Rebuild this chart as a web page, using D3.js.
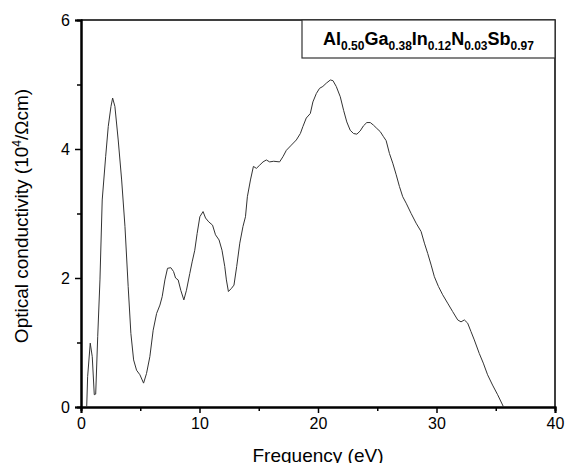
<!DOCTYPE html>
<html>
<head>
<meta charset="utf-8">
<script src="https://cdn.jsdelivr.net/npm/d3@7"></script>
<style>
  body { margin: 0; background: #fff; }
  text { font-family: "Liberation Sans", Arial, sans-serif; }
</style>
</head>
<body>
<div id="canvas"></div>
<script>
"use strict"

/* Data */
let freq = [0.48, 0.56, 0.78, 0.95, 1.12, 1.24, 1.41, 1.60, 1.79, 2.08, 2.30, 2.53, 2.67, 2.86, 3.14, 3.43,
    3.71, 3.98, 4.21, 4.44, 4.69, 4.97, 5.28, 5.53, 5.81, 6.09, 6.38, 6.66, 6.85, 7.08, 7.30, 7.58,
    7.81, 7.98, 8.20, 8.42, 8.68, 8.90, 9.18, 9.38, 9.60, 9.80, 10.03, 10.30, 10.51, 10.78, 11.10, 11.35,
    11.65, 11.90, 12.13, 12.27, 12.44, 12.70, 12.91, 13.14, 13.40, 13.67, 13.88, 14.04, 14.30, 14.55,
    14.80, 15.08, 15.36, 15.64, 15.92, 16.26, 16.76, 17.04, 17.33, 17.75, 18.17, 18.51, 18.73, 19.01,
    19.35, 19.57, 19.86, 20.13, 20.41, 20.70, 21.04, 21.26, 21.54, 21.88, 22.16, 22.43, 22.72, 23.00,
    23.28, 23.56, 23.84, 24.12, 24.41, 24.68, 24.96, 25.25, 25.53, 25.75, 26.03, 26.31, 26.60, 26.87,
    27.15, 27.44, 27.86, 28.28, 28.70, 28.98, 29.26, 29.55, 29.82, 30.16, 30.52, 30.94, 31.36, 31.79,
    32.07, 32.35, 32.63, 32.91, 33.19, 33.61, 33.95, 34.31, 34.73, 35.16, 35.66];
let sigma = [0.00, 0.47, 0.99, 0.78, 0.19, 0.20, 1.09, 1.97, 3.21, 3.88, 4.35, 4.66, 4.79, 4.66, 4.14, 3.52,
    2.80, 1.87, 1.14, 0.73, 0.57, 0.50, 0.37, 0.52, 0.78, 1.19, 1.45, 1.58, 1.71, 1.97, 2.15, 2.16,
    2.10, 2.00, 1.97, 1.81, 1.66, 1.81, 2.07, 2.25, 2.43, 2.69, 2.95, 3.03, 2.93, 2.87, 2.82, 2.67,
    2.59, 2.43, 2.18, 1.97, 1.79, 1.84, 1.89, 2.18, 2.54, 2.80, 2.95, 3.26, 3.52, 3.73,
    3.70, 3.75, 3.80, 3.83, 3.80, 3.81, 3.80, 3.88, 3.98, 4.06, 4.14, 4.24, 4.35, 4.48,
    4.55, 4.73, 4.86, 4.94, 4.97, 5.02, 5.07, 5.06, 4.97, 4.81, 4.60, 4.42, 4.29, 4.24,
    4.23, 4.28, 4.36, 4.41, 4.41, 4.37, 4.32, 4.27, 4.19, 4.13, 3.93, 3.78, 3.60, 3.42,
    3.26, 3.16, 3.00, 2.85, 2.72, 2.54, 2.38, 2.20, 2.02, 1.87, 1.74, 1.61, 1.48, 1.35,
    1.32, 1.35, 1.30, 1.17, 1.04, 0.83, 0.68, 0.50, 0.34, 0.19, 0.00];

let xTicks = [0, 10, 20, 30, 40];
let xMinor = [5, 15, 25, 35];
let yTicks = [0, 2, 4, 6];
let yMinor = [1, 3, 5];

let compound = [["Al", "0.50"], ["Ga", "0.38"], ["In", "0.12"], ["N", "0.03"], ["Sb", "0.97"]];

/* drawing setup */
let svgWidth = 565;
let svgHeight = 463;
let plotLeft = 81, plotRight = 555, plotTop = 20, plotBottom = 407;

let svg = d3.select("#canvas")
    .append("svg")
    .attr("width", svgWidth)
    .attr("height", svgHeight);

let xScale = d3.scaleLinear()
    .domain([0, 40])
    .range([plotLeft, plotRight]);

let yScale = d3.scaleLinear()
    .domain([0, 6])
    .range([plotBottom, plotTop]);

/* frame: top and right */
svg.append("path")
    .attr("d", `M${plotLeft},${plotTop}H${plotRight}V${plotBottom}`)
    .attr("fill", "none")
    .attr("stroke", "black")
    .attr("stroke-width", 1.5);

/* x axis */
svg.append("g")
    .attr("transform", `translate(0,${plotBottom})`)
    .call(d3.axisBottom(xScale).tickValues(xTicks).tickSize(6).tickPadding(5).tickFormat(d3.format("d")));
svg.append("g")
    .attr("transform", `translate(0,${plotBottom})`)
    .call(d3.axisBottom(xScale).tickValues(xMinor).tickSize(4).tickFormat(""));

/* y axis */
svg.append("g")
    .attr("transform", `translate(${plotLeft},0)`)
    .call(d3.axisLeft(yScale).tickValues(yTicks).tickSize(6).tickPadding(5).tickFormat(d3.format("d")));
svg.append("g")
    .attr("transform", `translate(${plotLeft},0)`)
    .call(d3.axisLeft(yScale).tickValues(yMinor).tickSize(4).tickFormat(""));

svg.selectAll(".domain").attr("stroke-width", 2).attr("stroke", "black");
svg.selectAll(".tick line").attr("stroke-width", 1.5).attr("stroke", "black");
svg.selectAll(".tick text")
    .attr("font-family", "Liberation Sans, Arial, sans-serif")
    .attr("font-size", 16)
    .attr("fill", "black");

/* the curve */
let line = d3.line()
    .x(function (d, i) { return xScale(freq[i]); })
    .y(function (d) { return yScale(d); });

svg.append("path")
    .datum(sigma)
    .attr("d", line)
    .attr("fill", "none")
    .attr("stroke", "#333")
    .attr("stroke-width", 1);

/* legend box */
svg.append("rect")
    .attr("x", 302)
    .attr("y", plotTop)
    .attr("width", plotRight - 302)
    .attr("height", 38)
    .attr("fill", "white")
    .attr("stroke", "#333")
    .attr("stroke-width", 1.2);

let legendText = svg.append("text")
    .attr("x", (302 + plotRight) / 2)
    .attr("y", 45)
    .attr("text-anchor", "middle")
    .attr("font-weight", "bold")
    .attr("font-size", 18);

compound.forEach(function (c, i) {
    legendText.append("tspan")
        .attr("dy", i == 0 ? 0 : -5)
        .text(c[0]);
    legendText.append("tspan")
        .attr("font-size", 12)
        .attr("dy", 5)
        .text(c[1]);
});

/* axis labels */
svg.append("text")
    .attr("x", (plotLeft + plotRight) / 2)
    .attr("y", 462)
    .attr("text-anchor", "middle")
    .attr("font-size", 19)
    .text("Frequency (eV)");

let yLab = svg.append("text")
    .attr("transform", `translate(28,216) rotate(-90)`)
    .attr("text-anchor", "middle")
    .attr("font-size", 19);
yLab.append("tspan").text("Optical conductivity (10");
yLab.append("tspan").attr("font-size", 12).attr("dy", -7).text("4");
yLab.append("tspan").attr("dy", 7).text("/Ωcm)");
</script>
</body>
</html>
